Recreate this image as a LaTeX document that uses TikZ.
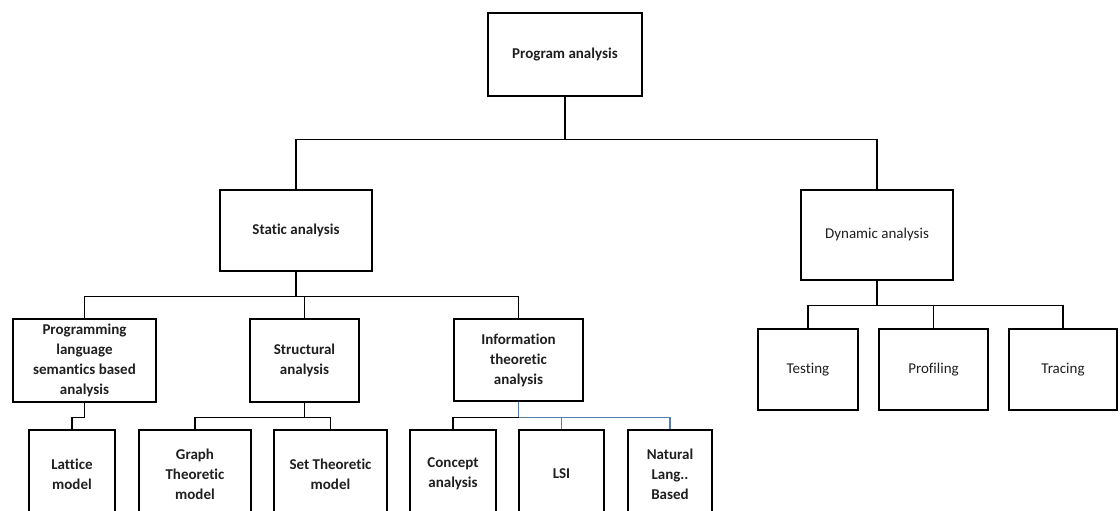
\documentclass[tikz,border=0pt]{standalone}
\usepackage{fontspec}
\setmainfont{Carlito}[Ligatures=NoCommon]
\definecolor{linkblue}{RGB}{84,126,172}
\tikzset{
  box/.style={draw=black, line width=2.8pt, fill=white, align=center, inner sep=0pt,
              font=\fontsize{15}{20}\selectfont\bfseries, text=black!88},
  lightbox/.style={box, font=\fontsize{15}{20}\selectfont},
  link/.style={draw=black, line width=1.5pt},
  bluelink/.style={draw=linkblue, line width=1.6pt}
}
\begin{document}
\begin{tikzpicture}[x=1pt, y=-1pt]
\useasboundingbox (0,0) rectangle (1120,511);
\clip (0,0) rectangle (1120,511);

% root
\node[box, minimum width=154pt, minimum height=83pt] (pa) at (565,54.5) {Program analysis};

% second level
\node[box, minimum width=152pt, minimum height=81pt] (sa) at (296,230.5) {Static analysis};
\node[lightbox, minimum width=152pt, minimum height=90pt] (da) at (877,235) {Dynamic analysis};

% static analysis branches
\node[box, minimum width=143pt, minimum height=83pt] (pl) at (84.5,360.5) {Programming\\language\\semantics based\\analysis};
\node[box, minimum width=109pt, minimum height=83pt] (st) at (304.5,360.5) {Structural\\analysis};
\node[box, minimum width=129pt, minimum height=82pt] (it) at (518.5,360) {Information\\theoretic\\analysis};

% dynamic analysis branches
\node[lightbox, minimum width=100pt, minimum height=81pt] (te) at (808,369.5) {Testing};
\node[lightbox, minimum width=109pt, minimum height=81pt] (pr) at (933.5,369.5) {Profiling};
\node[lightbox, minimum width=108pt, minimum height=81pt] (tr) at (1063,369.5) {Tracing};

% leaves
\node[box, minimum width=86pt, minimum height=88pt] (la) at (72,474) {Lattice\\model};
\node[box, minimum width=112pt, minimum height=88pt] (gt) at (195,474) {Graph\\Theoretic\\model};
\node[box, minimum width=113pt, minimum height=88pt] (sT) at (330.5,474) {Set Theoretic\\model};
\node[box, minimum width=86pt, minimum height=88pt] (ca) at (453,474) {Concept\\analysis};
\node[box, minimum width=85pt, minimum height=88pt] (ls) at (561.5,474) {LSI};
\node[box, minimum width=84pt, minimum height=88pt] (nl) at (670,474) {Natural\\Lang..\\Based};

% connectors
\draw[link] (pa.south) -- ++(0,42) coordinate (b1);
\draw[link] (sa.north) |- (b1) -| (da.north);

\draw[link] (sa.south) -- ++(0,24) coordinate (b2);
\draw[link] (pl.north) |- (b2) -| (it.north);
\draw[link] (st.north) -- (st.north |- b2);

\draw[link] (da.south) -- ++(0,24) coordinate (b3);
\draw[link] (te.north) |- (b3) -| (tr.north);
\draw[link] (pr.north) -- (pr.north |- b3);

\draw[link] (pl.south) -- ++(0,14) -| (la.north);

\draw[link] (st.south) -- ++(0,14) coordinate (b4);
\draw[link] (gt.north) |- (b4) -| (sT.north);

\draw[bluelink] (it.south) -- ++(0,15) coordinate (b5);
\draw[link] (b5) -| (ca.north);
\draw[bluelink] (b5) -| (nl.north);
\draw[bluelink] (ls.north) -- (ls.north |- b5);
\end{tikzpicture}
\end{document}
